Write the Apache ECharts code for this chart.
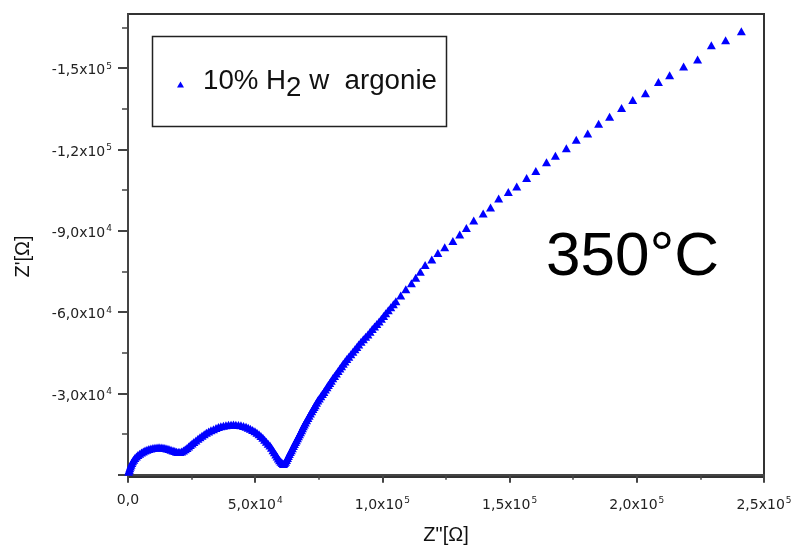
<!DOCTYPE html>
<html>
<head>
<meta charset="utf-8">
<script src="https://cdn.jsdelivr.net/npm/echarts@6/dist/echarts.min.js"></script>
<style>html,body{margin:0;padding:0;background:#fff}#c{width:797px;height:550px}</style>
</head>
<body>
<div id="c"></div>
<script>
// Z'' (real part, Ohm)
const zRe = [300,500,700,950,1200,1500,1800,2250,2700,3300,3900,4600,5300,6000,6700,7450,8200,9000,9800,10600,11400,12200,13000,13750,14500,15300,16100,16900,17700,18400,19100,19750,20400,21100,21800,22500,23200,23850,24500,25200,25900,26700,27500,28300,29100,29950,30800,31700,32600,33600,34600,35550,36500,37500,38500,39500,40500,41450,42400,43400,44400,45400,46400,47250,48100,49000,49900,50700,51500,52250,53000,53700,54400,55100,55800,56400,57000,57550,58100,58600,59100,59600,60100,60600,61100,61500,61900,62300,62700,63050,63400,63800,64200,64600,65000,65400,65800,66200,66600,67000,67400,67800,68200,68550,68900,69300,69700,70200,70700,71200,71700,72200,72700,73150,73600,74100,74600,75200,75800,76400,77000,77600,78200,78750,79300,79900,80500,81200,81900,82600,83300,83950,84600,85300,86000,86800,87600,88400,89200,89950,90700,91600,92500,93400,94300,95150,96000,96900,97800,98700,99600,100450,101300,102300,103300,104300,105300,107200,109200,111400,113100,114900,116800,119400,121800,124500,127700,130400,133000,135900,139600,142500,145700,149500,152800,156700,160300,164500,168000,172300,176200,180700,185000,189300,194000,198400,203400,208500,212900,218400,223900,229300,234900,241100];
// Z' (imaginary part, Ohm)
const zIm = [-1100,-1750,-2400,-3050,-3700,-4350,-5000,-5600,-6200,-6750,-7300,-7750,-8200,-8600,-9000,-9250,-9500,-9700,-9900,-10000,-10100,-10150,-10100,-10000,-9900,-9700,-9500,-9250,-9000,-8750,-8500,-8400,-8400,-8650,-9000,-9450,-9900,-10450,-11000,-11550,-12100,-12700,-13300,-13850,-14400,-14950,-15500,-15950,-16400,-16850,-17300,-17600,-17900,-18100,-18300,-18450,-18500,-18550,-18500,-18400,-18300,-18000,-17700,-17350,-17000,-16550,-16100,-15550,-15000,-14350,-13700,-12950,-12200,-11500,-10800,-9950,-9100,-8300,-7500,-6750,-6000,-5400,-4800,-4350,-4000,-4350,-4800,-5500,-6200,-6950,-7700,-8400,-9100,-9850,-10600,-11350,-12100,-12800,-13500,-14250,-15000,-15700,-16400,-17150,-17900,-18600,-19300,-20150,-21000,-21800,-22600,-23450,-24300,-25000,-25700,-26550,-27400,-28200,-29000,-29800,-30600,-31450,-32300,-33100,-33900,-34750,-35600,-36500,-37400,-38300,-39200,-40100,-41000,-41850,-42700,-43600,-44500,-45400,-46300,-47200,-48100,-49050,-50000,-50900,-51800,-52800,-53800,-54700,-55600,-56600,-57600,-58600,-59600,-60700,-61800,-62900,-64000,-66200,-68500,-70700,-72700,-74900,-77400,-79400,-81800,-84000,-86300,-88700,-91100,-93800,-96400,-98600,-101900,-104300,-106400,-109500,-112100,-115300,-117700,-120500,-123600,-125900,-129500,-132100,-135300,-138300,-140800,-144900,-147400,-150600,-153200,-158500,-160300,-163600];

const seriesName = '10% H2 w  argonie';
const annotation = '350°C';

const xTickValues = [0, 50000, 100000, 150000, 200000, 250000];
const xTickMantissa = ['0,0', '5,0x10', '1,0x10', '1,5x10', '2,0x10', '2,5x10'];
const xTickExponent = ['', '4', '5', '5', '5', '5'];

const yTickValues = [-150000, -120000, -90000, -60000, -30000];
const yTickMantissa = ['-1,5x10', '-1,2x10', '-9,0x10', '-6,0x10', '-3,0x10'];
const yTickExponent = ['5', '5', '4', '4', '4'];
const yMajorTicks = [0, -30000, -60000, -90000, -120000, -150000];
const yMinorTicks = [-15000, -45000, -75000, -105000, -135000, -165000];

const data = zRe.map((x, i) => [x, zIm[i]]);

function fmt(values, mant, expo) {
  return function (v) {
    const i = values.indexOf(v);
    if (i < 0) return '';
    return expo[i] ? '{m|' + mant[i] + '}{e|' + expo[i] + '}' : '{m|' + mant[i] + '}';
  };
}
const labelRich = {
  m: { fontSize: 14, fontFamily: 'DejaVu Sans', color: '#222', verticalAlign: 'bottom' },
  e: { fontSize: 9, fontFamily: 'DejaVu Sans', color: '#222', verticalAlign: 'bottom', padding: [3, 0, 7, 1] }
};
const axisCol = '#444';

const chart = echarts.init(document.getElementById('c'), null, { renderer: 'canvas' });
chart.setOption({
  animation: false,
  backgroundColor: '#fff',
  grid: { left: 128, top: 14, right: 33, bottom: 72, show: true, borderColor: '#333', borderWidth: 2, backgroundColor: 'transparent' },
  legend: {
    left: 177, top: 67, padding: 0,
    icon: 'triangle', itemWidth: 7, itemHeight: 6,
    data: [seriesName],
    formatter: function () { return '{n|10% H}{s|2}{n| w  argonie}'; },
    textStyle: {
      padding: [0, 0, 0, 14],
      rich: {
        n: { fontSize: 27.7, fontFamily: 'Liberation Sans', color: '#111', verticalAlign: 'top' },
        s: { fontSize: 27.7, fontFamily: 'Liberation Sans', color: '#111', verticalAlign: 'top', padding: [7, 0, 0, 0] }
      }
    }
  },
  graphic: [
    { type: 'rect', shape: { x: 152.5, y: 36.5, width: 294, height: 90 }, style: { fill: 'none', stroke: '#222', lineWidth: 1.5 }, z: 10 },
    { type: 'text', x: 546, y: 258, style: { text: annotation, font: '62px "Liberation Sans"', fill: '#000', verticalAlign: 'middle', align: 'left' }, z: 10 }
  ],
  xAxis: {
    type: 'value', min: 0, max: 250000, interval: 50000,
    name: 'Z"[Ω]', nameLocation: 'middle', nameGap: 48,
    nameTextStyle: { fontSize: 20, fontFamily: 'Liberation Sans', color: '#111' },
    axisLine: { show: true, lineStyle: { color: axisCol, width: 2 } },
    axisTick: { show: true, length: 8, lineStyle: { color: axisCol, width: 2 } },
    minorTick: { show: true, splitNumber: 2, length: 5, lineStyle: { color: axisCol, width: 1.5 } },
    axisLabel: { margin: 16, showMinLabel: true, showMaxLabel: true, formatter: fmt(xTickValues, xTickMantissa, xTickExponent), rich: labelRich },
    splitLine: { show: false }
  },
  yAxis: [{
    type: 'value', inverse: true, min: -170000, max: 800, position: 'left',
    name: "Z'[Ω]", nameLocation: 'middle', nameGap: 95,
    nameTextStyle: { fontSize: 20, fontFamily: 'Liberation Sans', color: '#111', padding: [0, 22, 0, 0] },
    axisLine: { show: true, lineStyle: { color: axisCol, width: 2 } },
    axisTick: { show: true, length: 10, customValues: yMajorTicks, lineStyle: { color: axisCol, width: 2 } },
    axisLabel: { margin: 16, customValues: yTickValues, formatter: fmt(yTickValues, yTickMantissa, yTickExponent), rich: labelRich },
    splitLine: { show: false }
  }, {
    type: 'value', inverse: true, min: -170000, max: 800, position: 'left', offset: 0,
    axisLine: { show: false },
    axisTick: { show: true, length: 6, customValues: yMinorTicks, lineStyle: { color: axisCol, width: 1.5 } },
    axisLabel: { show: false },
    splitLine: { show: false }
  }],
  series: [{
    name: seriesName,
    type: 'scatter',
    yAxisIndex: 0,
    symbol: 'triangle',
    symbolSize: [9, 8],
    itemStyle: { color: '#0000ff', opacity: 1 },
    data: data
  }]
});
</script>
</body>
</html>
